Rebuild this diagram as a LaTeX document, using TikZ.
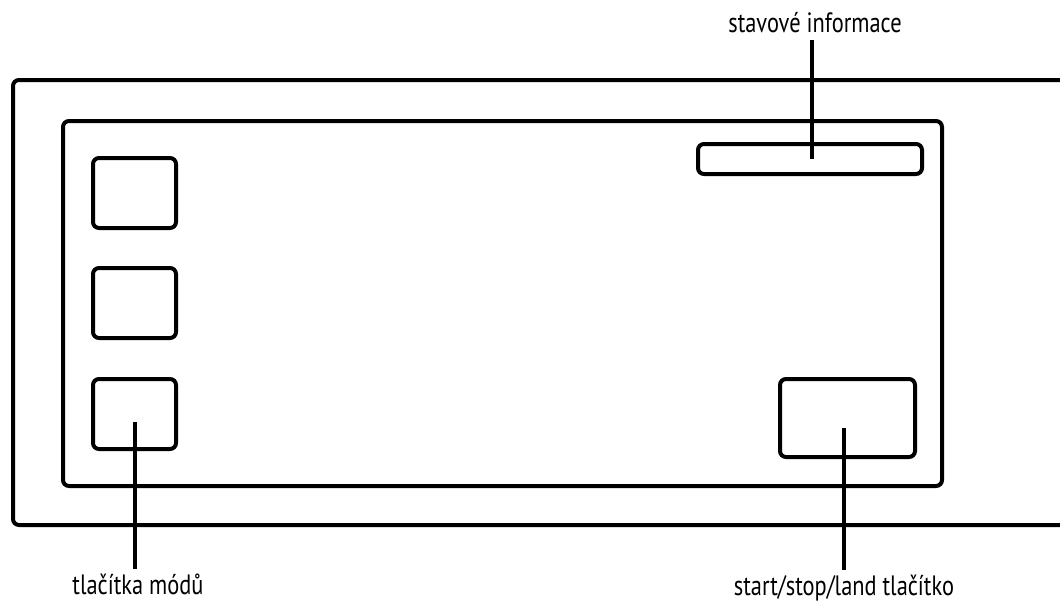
\documentclass[tikz,border=0pt]{standalone}
\usepackage{fontspec}
\setmainfont[FakeStretch=0.8]{PT Sans}
\begin{document}
\begin{tikzpicture}[x=1pt,y=-1pt,
  box/.style={draw=black,line width=4pt,rounded corners=6pt},
  lead/.style={draw=black,line width=4pt},
  lbl/.style={font=\fontsize{28}{32}\selectfont,inner sep=0pt,anchor=base}]
\useasboundingbox (0,0) rectangle (1060,603);
\clip (0,0) rectangle (1060,603);
\draw[box] (13,80) rectangle (1090,525);
\draw[box] (63,121) rectangle (942,486);
\node[box,minimum width=83pt,minimum height=70pt,inner sep=0pt] (m1) at (134.5,193) {};
\node[box,minimum width=83pt,minimum height=70pt,inner sep=0pt] (m2) at (134.5,303) {};
\node[box,minimum width=83pt,minimum height=70pt,inner sep=0pt] (m3) at (134.5,414) {};
\node[box,minimum width=224pt,minimum height=30pt,inner sep=0pt] (st) at (810,159) {};
\node[box,minimum width=135pt,minimum height=78pt,inner sep=0pt] (ss) at (847.5,418) {};
\node[lbl] (lst) at (815,32) {stavové informace};
\node[lbl] (lm) at (138,594) {tlačítka módů};
\node[lbl] (lss) at (844,595) {start/stop/land tlačítko};
\coordinate (cst) at (812,40);
\coordinate (est) at (812,159);
\coordinate (cm) at (135,569);
\coordinate (em) at (135,422);
\coordinate (css) at (844,570);
\coordinate (ess) at (844,428);
\draw[lead] (cst) -- (est);
\draw[lead] (cm) -- (em);
\draw[lead] (css) -- (ess);
\end{tikzpicture}
\end{document}
